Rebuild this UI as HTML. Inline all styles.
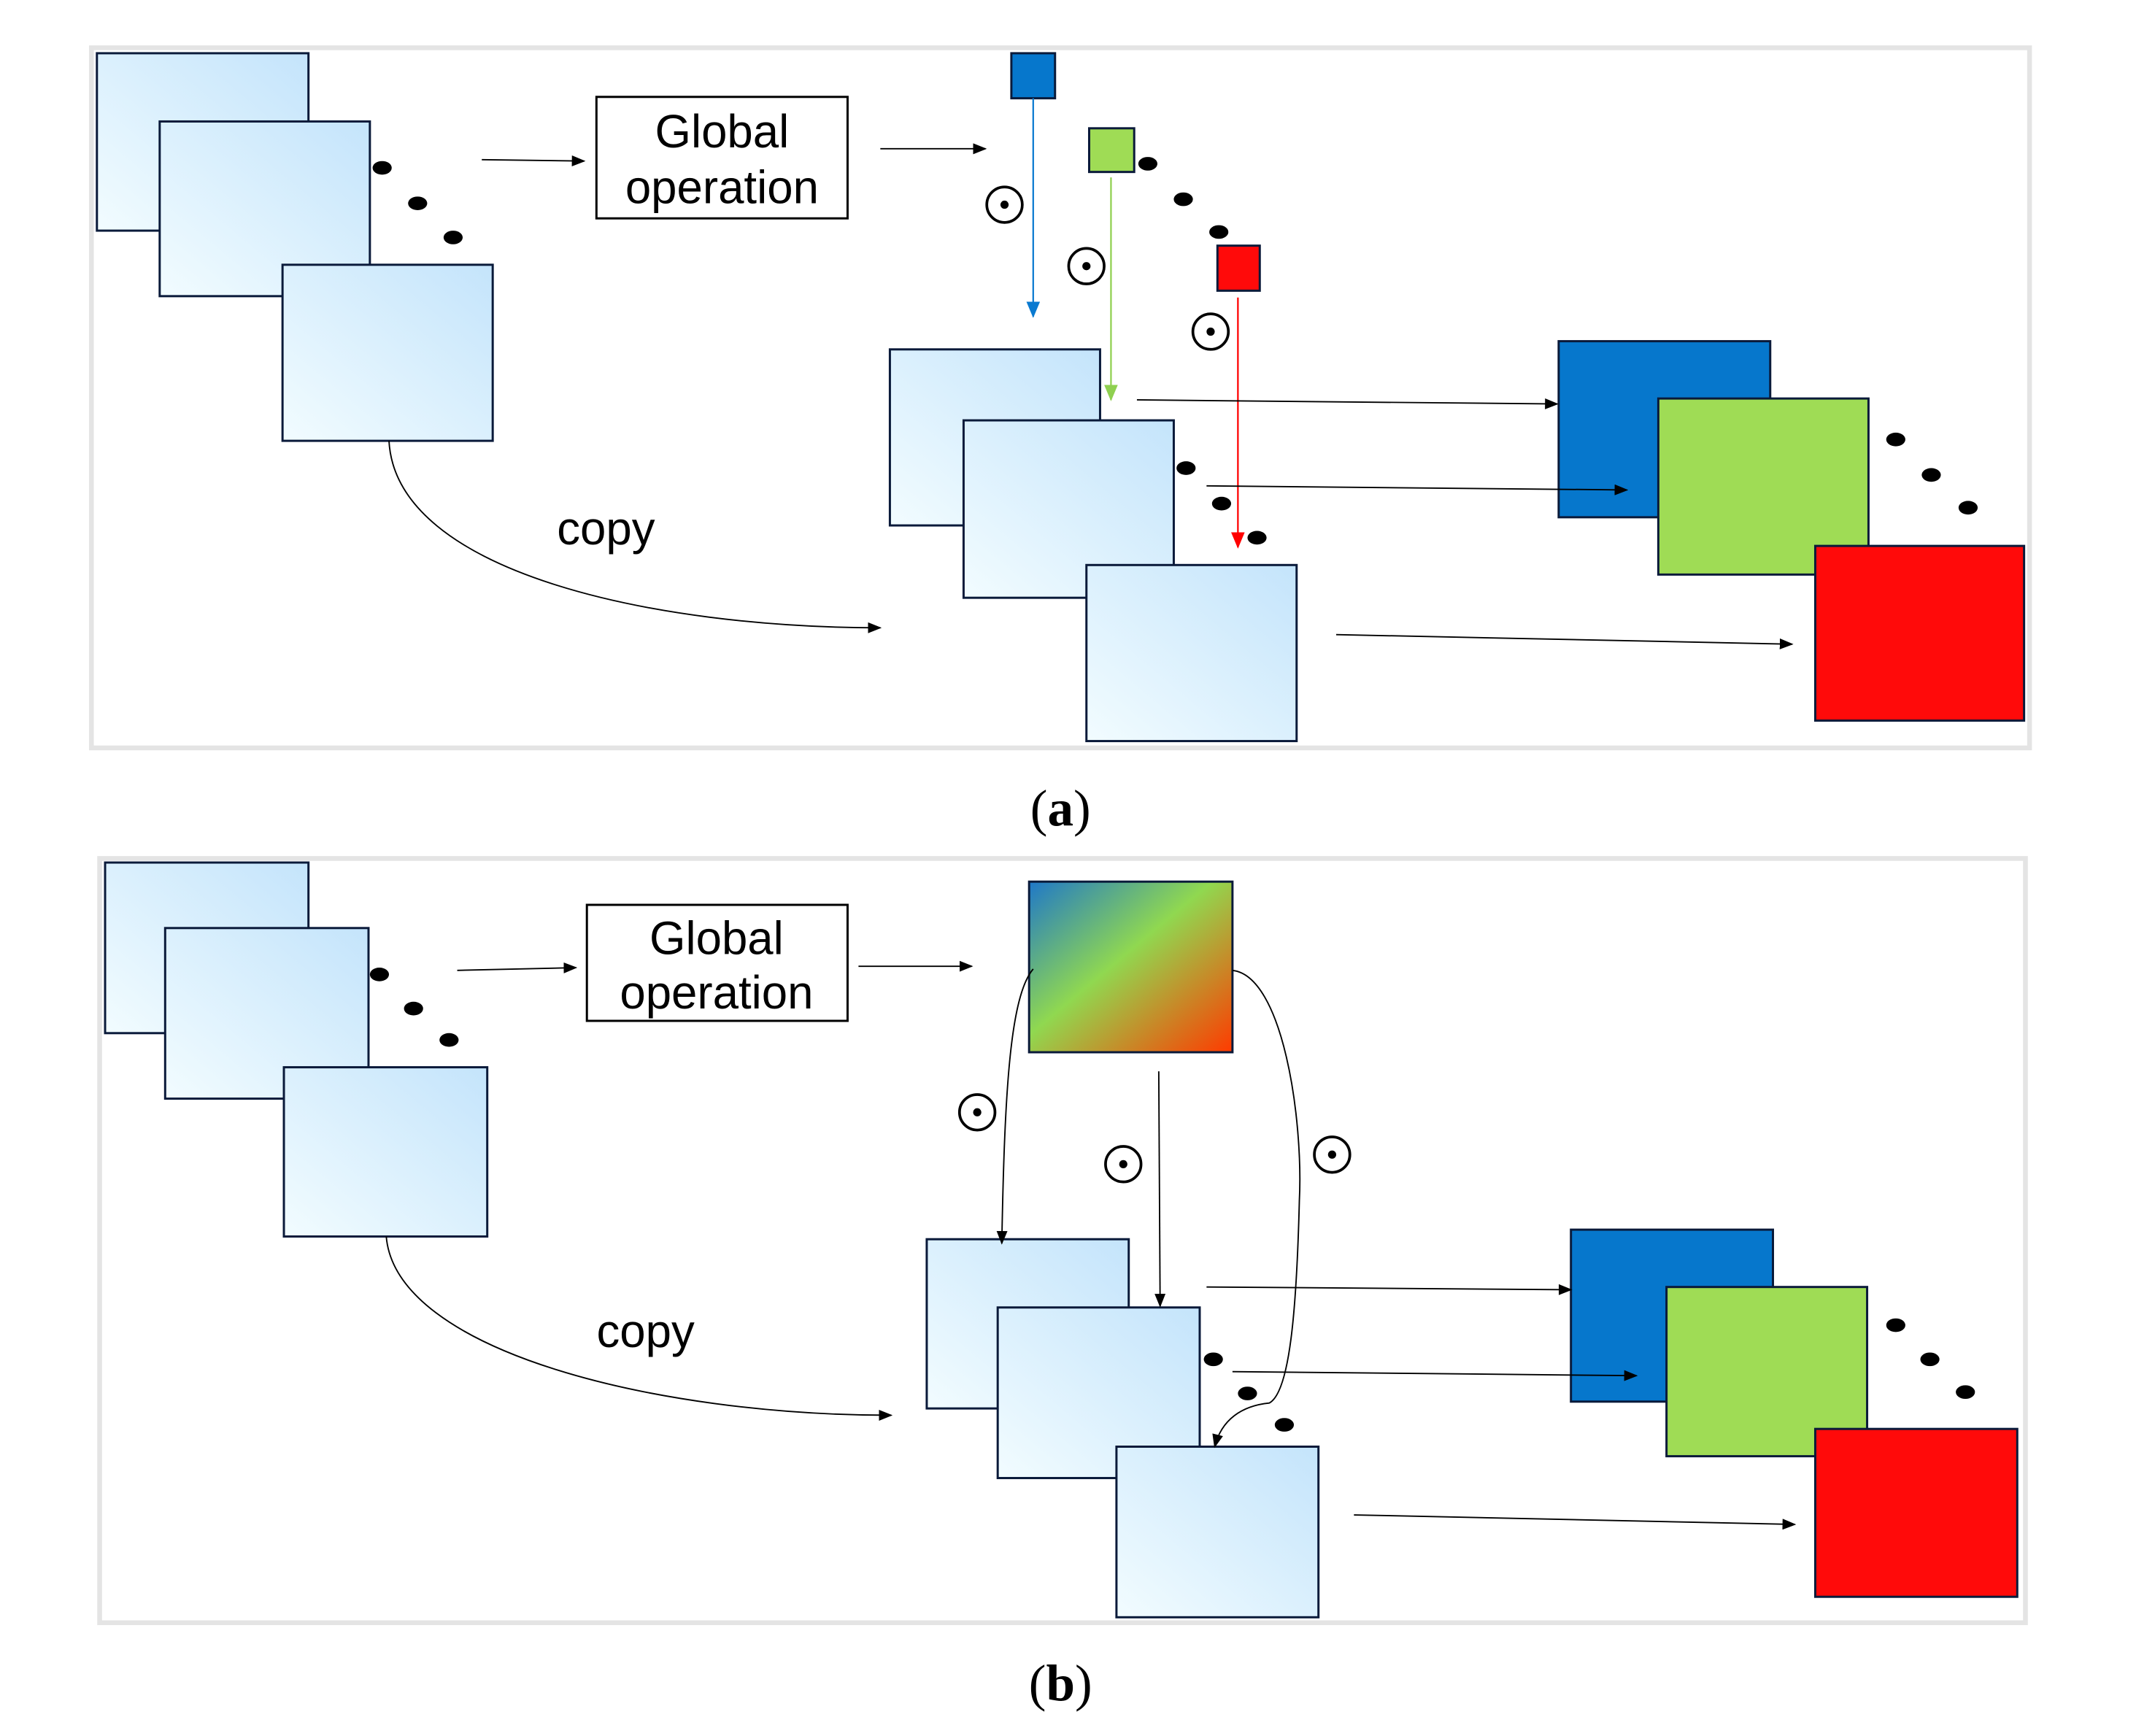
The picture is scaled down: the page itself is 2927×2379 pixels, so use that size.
<!DOCTYPE html>
<html><head><meta charset="utf-8"><style>
html,body{margin:0;padding:0;background:#fff;}
svg{display:block;}
</style></head><body>
<svg width="2927" height="2379" viewBox="0 0 1565 1272" preserveAspectRatio="none" xmlns="http://www.w3.org/2000/svg">
<defs>
<linearGradient id="lb" x1="0" y1="1" x2="1" y2="0">
<stop offset="0" stop-color="#f2fcff"/><stop offset="1" stop-color="#c4e4fb"/>
</linearGradient>
<linearGradient id="rg" x1="0" y1="0" x2="1" y2="1">
<stop offset="0" stop-color="#1f78c8"/><stop offset="0.45" stop-color="#90d850"/><stop offset="1" stop-color="#ff3a00"/>
</linearGradient>
<marker id="ab" markerWidth="10" markerHeight="8" refX="9" refY="4" orient="auto" markerUnits="userSpaceOnUse"><path d="M0,0 L10,4 L0,8 z" fill="#000"/></marker>
<marker id="abl" markerWidth="12" markerHeight="10" refX="11" refY="5" orient="auto" markerUnits="userSpaceOnUse"><path d="M0,0 L12,5 L0,10 z" fill="#0a7ad0"/></marker>
<marker id="agr" markerWidth="12" markerHeight="10" refX="11" refY="5" orient="auto" markerUnits="userSpaceOnUse"><path d="M0,0 L12,5 L0,10 z" fill="#8fd050"/></marker>
<marker id="are" markerWidth="12" markerHeight="10" refX="11" refY="5" orient="auto" markerUnits="userSpaceOnUse"><path d="M0,0 L12,5 L0,10 z" fill="#ff0000"/></marker>
</defs>
<g font-family="Liberation Sans, sans-serif">
<!-- Panel a -->
<rect x="67" y="35" width="1420" height="513" fill="#fff" stroke="#e4e4e4" stroke-width="3.5"/>
<g stroke="#0a1a3a" stroke-width="1.6" fill="url(#lb)">
<rect x="71" y="39" width="155" height="130"/>
<rect x="117" y="89" width="154" height="128"/>
<rect x="207" y="194" width="154" height="129"/>
</g>
<g fill="#000"><ellipse cx="280" cy="123" rx="7" ry="5"/><ellipse cx="306" cy="149" rx="7" ry="5"/><ellipse cx="332" cy="174" rx="7" ry="5"/></g>
<line x1="353" y1="117" x2="428" y2="118" stroke="#000" stroke-width="1" marker-end="url(#ab)"/>
<rect x="437" y="71" width="184" height="89" fill="#fff" stroke="#000" stroke-width="1.6"/>
<text x="529" y="108" font-size="34" text-anchor="middle" fill="#000">Global</text>
<text x="529" y="149" font-size="34" text-anchor="middle" fill="#000">operation</text>
<line x1="645" y1="109" x2="722" y2="109" stroke="#000" stroke-width="1" marker-end="url(#ab)"/>
<rect x="741" y="39" width="32" height="33" fill="#0677cc" stroke="#0a1a3a" stroke-width="1.6"/>
<rect x="798" y="94" width="33" height="32" fill="#9fdc55" stroke="#0a1a3a" stroke-width="1.6"/>
<rect x="892" y="180" width="31" height="33" fill="#ff0a0a" stroke="#0a1a3a" stroke-width="1.6"/>
<line x1="757" y1="72" x2="757" y2="232" stroke="#0a7ad0" stroke-width="1.2" marker-end="url(#abl)"/>
<line x1="814" y1="130" x2="814" y2="293" stroke="#8fd050" stroke-width="1.2" marker-end="url(#agr)"/>
<line x1="907" y1="218" x2="907" y2="401" stroke="#ff0000" stroke-width="1.2" marker-end="url(#are)"/>
<g fill="none" stroke="#000" stroke-width="2"><circle cx="736" cy="150" r="13"/><circle cx="796" cy="195" r="13"/><circle cx="887" cy="243" r="13"/></g>
<g fill="#000"><circle cx="736" cy="150" r="3"/><circle cx="796" cy="195" r="3"/><circle cx="887" cy="243" r="3"/>
<ellipse cx="841" cy="120" rx="7" ry="5"/><ellipse cx="867" cy="146" rx="7" ry="5"/><ellipse cx="893" cy="170" rx="7" ry="5"/></g>
<g stroke="#0a1a3a" stroke-width="1.6" fill="url(#lb)">
<rect x="652" y="256" width="154" height="129"/>
<rect x="706" y="308" width="154" height="130"/>
<rect x="796" y="414" width="154" height="129"/>
</g>
<g fill="#000"><ellipse cx="869" cy="343" rx="7" ry="5"/><ellipse cx="895" cy="369" rx="7" ry="5"/><ellipse cx="921" cy="394" rx="7" ry="5"/></g>
<rect x="1142" y="250" width="155" height="129" fill="#0677cc" stroke="#0a1a3a" stroke-width="1.6"/>
<rect x="1215" y="292" width="154" height="129" fill="#9fdc55" stroke="#0a1a3a" stroke-width="1.6"/>
<rect x="1330" y="400" width="153" height="128" fill="#ff0a0a" stroke="#0a1a3a" stroke-width="1.6"/>
<g stroke="#000" stroke-width="1" marker-end="url(#ab)">
<line x1="833" y1="293" x2="1141" y2="296"/>
<line x1="884" y1="356" x2="1192" y2="359"/>
<line x1="979" y1="465" x2="1313" y2="472"/>
</g>
<g fill="#000"><ellipse cx="1389" cy="322" rx="7" ry="5"/><ellipse cx="1415" cy="348" rx="7" ry="5"/><ellipse cx="1442" cy="372" rx="7" ry="5"/></g>
<path d="M285,323 C290,420 480,460 645,460" fill="none" stroke="#000" stroke-width="1" marker-end="url(#ab)"/>
<text x="444" y="399" font-size="34" text-anchor="middle" fill="#000">copy</text>
<text x="777" y="605" font-size="38" text-anchor="middle" font-family="Liberation Serif, serif" fill="#000">(<tspan font-weight="bold">a</tspan>)</text>

<!-- Panel b -->
<rect x="73" y="629" width="1411" height="560" fill="#fff" stroke="#e4e4e4" stroke-width="3.5"/>
<g stroke="#0a1a3a" stroke-width="1.6" fill="url(#lb)">
<rect x="77" y="632" width="149" height="125"/>
<rect x="121" y="680" width="149" height="125"/>
<rect x="208" y="782" width="149" height="124"/>
</g>
<g fill="#000"><ellipse cx="278" cy="714" rx="7" ry="5"/><ellipse cx="303" cy="739" rx="7" ry="5"/><ellipse cx="329" cy="762" rx="7" ry="5"/></g>
<line x1="335" y1="711" x2="422" y2="709" stroke="#000" stroke-width="1" marker-end="url(#ab)"/>
<rect x="430" y="663" width="191" height="85" fill="#fff" stroke="#000" stroke-width="1.6"/>
<text x="525" y="699" font-size="34" text-anchor="middle" fill="#000">Global</text>
<text x="525" y="739" font-size="34" text-anchor="middle" fill="#000">operation</text>
<line x1="629" y1="708" x2="712" y2="708" stroke="#000" stroke-width="1" marker-end="url(#ab)"/>
<rect x="754" y="646" width="149" height="125" fill="url(#rg)" stroke="#0a1a3a" stroke-width="1.6"/>
<g fill="none" stroke="#000" stroke-width="2"><circle cx="716" cy="815" r="13"/><circle cx="823" cy="853" r="13"/><circle cx="976" cy="846" r="13"/></g>
<g fill="#000"><circle cx="716" cy="815" r="3"/><circle cx="823" cy="853" r="3"/><circle cx="976" cy="846" r="3"/></g>
<g stroke="#0a1a3a" stroke-width="1.6" fill="url(#lb)">
<rect x="679" y="908" width="148" height="124"/>
<rect x="731" y="958" width="148" height="125"/>
<rect x="818" y="1060" width="148" height="125"/>
</g>
<path d="M757,710 C740,730 736,800 734,911" fill="none" stroke="#000" stroke-width="1" marker-end="url(#ab)"/>
<line x1="849" y1="785" x2="850" y2="957" stroke="#000" stroke-width="1" marker-end="url(#ab)"/>
<path d="M903,711 C940,715 955,820 952,880 C950,960 945,1020 930,1028 C910,1030 895,1040 890,1060" fill="none" stroke="#000" stroke-width="1" marker-end="url(#ab)"/>
<g fill="#000"><ellipse cx="889" cy="996" rx="7" ry="5"/><ellipse cx="914" cy="1021" rx="7" ry="5"/><ellipse cx="941" cy="1044" rx="7" ry="5"/></g>
<rect x="1151" y="901" width="148" height="126" fill="#0677cc" stroke="#0a1a3a" stroke-width="1.6"/>
<rect x="1221" y="943" width="147" height="124" fill="#9fdc55" stroke="#0a1a3a" stroke-width="1.6"/>
<rect x="1330" y="1047" width="148" height="123" fill="#ff0a0a" stroke="#0a1a3a" stroke-width="1.6"/>
<g stroke="#000" stroke-width="1" marker-end="url(#ab)">
<line x1="884" y1="943" x2="1151" y2="945"/>
<line x1="903" y1="1005" x2="1199" y2="1008"/>
<line x1="992" y1="1110" x2="1315" y2="1117"/>
</g>
<g fill="#000"><ellipse cx="1389" cy="971" rx="7" ry="5"/><ellipse cx="1414" cy="996" rx="7" ry="5"/><ellipse cx="1440" cy="1020" rx="7" ry="5"/></g>
<path d="M283,906 C290,990 480,1037 653,1037" fill="none" stroke="#000" stroke-width="1" marker-end="url(#ab)"/>
<text x="473" y="987" font-size="34" text-anchor="middle" fill="#000">copy</text>
<text x="777" y="1246" font-size="38" text-anchor="middle" font-family="Liberation Serif, serif" fill="#000">(<tspan font-weight="bold">b</tspan>)</text>
</g>
</svg>
</body></html>
